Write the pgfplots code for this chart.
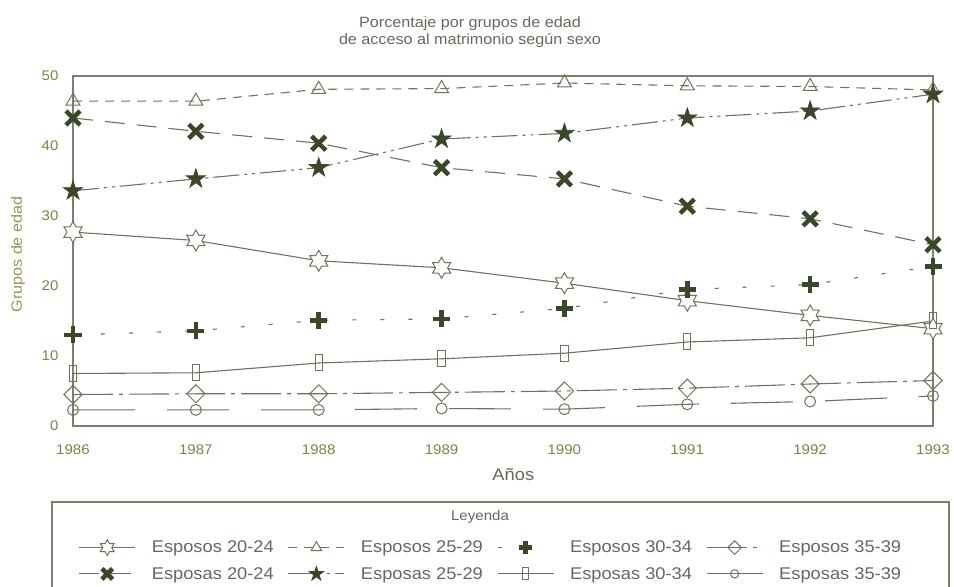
\documentclass[border=0pt]{standalone}
\usepackage{fontspec}
\setmainfont{Liberation Sans}[FakeStretch=1.08]
\usepackage{pgfplots}
\pgfplotsset{compat=1.18}
\usetikzlibrary{plotmarks}

\definecolor{linea}{HTML}{6E735A}
\definecolor{oscuro}{HTML}{3A4828}
\definecolor{marco}{HTML}{7C806A}
\definecolor{tickc}{HTML}{857F45}
\definecolor{ylab}{HTML}{9A9350}
\definecolor{texto}{HTML}{66685A}

% estrella de seis puntas (hueca)
\pgfdeclareplotmark{hexstar}{%
  \pgfpathmoveto{\pgfpointpolar{90}{\pgfplotmarksize}}%
  \pgfpathlineto{\pgfpointpolar{120}{0.577\pgfplotmarksize}}%
  \pgfpathlineto{\pgfpointpolar{150}{\pgfplotmarksize}}%
  \pgfpathlineto{\pgfpointpolar{180}{0.577\pgfplotmarksize}}%
  \pgfpathlineto{\pgfpointpolar{210}{\pgfplotmarksize}}%
  \pgfpathlineto{\pgfpointpolar{240}{0.577\pgfplotmarksize}}%
  \pgfpathlineto{\pgfpointpolar{270}{\pgfplotmarksize}}%
  \pgfpathlineto{\pgfpointpolar{300}{0.577\pgfplotmarksize}}%
  \pgfpathlineto{\pgfpointpolar{330}{\pgfplotmarksize}}%
  \pgfpathlineto{\pgfpointpolar{0}{0.577\pgfplotmarksize}}%
  \pgfpathlineto{\pgfpointpolar{30}{\pgfplotmarksize}}%
  \pgfpathlineto{\pgfpointpolar{60}{0.577\pgfplotmarksize}}%
  \pgfpathclose
  \pgfusepathqfillstroke
}
% estrella de cinco puntas (rellena)
\pgfdeclareplotmark{fivestar}{%
  \pgfpathmoveto{\pgfpointpolar{90}{\pgfplotmarksize}}%
  \pgfpathlineto{\pgfpointpolar{126}{0.38\pgfplotmarksize}}%
  \pgfpathlineto{\pgfpointpolar{162}{\pgfplotmarksize}}%
  \pgfpathlineto{\pgfpointpolar{198}{0.38\pgfplotmarksize}}%
  \pgfpathlineto{\pgfpointpolar{234}{\pgfplotmarksize}}%
  \pgfpathlineto{\pgfpointpolar{270}{0.38\pgfplotmarksize}}%
  \pgfpathlineto{\pgfpointpolar{306}{\pgfplotmarksize}}%
  \pgfpathlineto{\pgfpointpolar{342}{0.38\pgfplotmarksize}}%
  \pgfpathlineto{\pgfpointpolar{18}{\pgfplotmarksize}}%
  \pgfpathlineto{\pgfpointpolar{54}{0.38\pgfplotmarksize}}%
  \pgfpathclose
  \pgfusepathqfillstroke
}

\begin{document}
\begin{tikzpicture}
\useasboundingbox (0,0) rectangle (954bp,587bp);
\begin{axis}[
  at={(73bp,161bp)}, anchor=south west,
  scale only axis, width=860bp, height=350bp,
  xmin=1986, xmax=1993, ymin=0, ymax=50,
  xtick={1986,...,1993}, ytick={0,10,...,50},
  major tick length=0pt,
  axis line style={marco, line width=1.2bp},
  /pgf/number format/1000 sep={},
  /pgf/number format/assume math mode=true,
  tick label style={text=tickc, font=\fontsize{14}{16}\selectfont},
  xticklabel style={yshift=-15bp},
  yticklabel style={xshift=-11bp},
  xlabel={Años},
  xlabel style={at={(axis description cs:0.512,0)}, anchor=center, yshift=-49bp,
    text=texto, font=\fontsize{17}{19}\selectfont},
  ylabel={Grupos de edad},
  ylabel style={at={(axis description cs:-0.064,0.49)}, anchor=center,
    text=ylab, font=\fontsize{15}{17}\selectfont},
  legend columns=4,
  legend cell align=left,
  legend style={at={(0.486,-0.385)}, anchor=center, draw=none, fill=none,
    text=texto, font=\fontsize{17}{19}\selectfont,
    nodes={inner sep=2bp}, row sep=9bp,
    /tikz/every odd column/.append style={column sep=14bp},
    /tikz/every even column/.append style={column sep=12bp}},
  legend image code/.code={%
    \draw[mark repeat=2,mark phase=2,#1,every mark/.append style={scale=0.75}]
      plot coordinates {(0bp,0bp) (28bp,0bp) (56bp,0bp)};},
  every axis plot/.append style={line width=1.1bp, linea},
]
% Esposos 20-24
\addplot[solid, mark=hexstar, mark size=10.5bp,
  mark options={solid, fill=white, draw=linea, line width=1bp}]
  coordinates {(1986,27.7)(1987,26.5)(1988,23.6)(1989,22.6)(1990,20.4)(1991,17.9)(1992,15.8)(1993,13.9)};
\addlegendentry{Esposos 20-24}
% Esposos 25-29
\addplot[dash pattern=on 9bp off 7bp, mark=triangle, mark size=8bp,
  mark options={solid, fill=white, draw=linea, line width=1bp}]
  coordinates {(1986,46.4)(1987,46.4)(1988,48.1)(1989,48.2)(1990,49.0)(1991,48.6)(1992,48.5)(1993,48.0)};
\addlegendentry{Esposos 25-29}
% Esposos 30-34
\addplot[dash pattern=on 4bp off 24bp, mark=+, mark size=8.5bp,
  mark options={solid, draw=oscuro, line width=4.5bp}]
  coordinates {(1986,13.0)(1987,13.6)(1988,15.1)(1989,15.3)(1990,16.8)(1991,19.5)(1992,20.2)(1993,22.8)};
\addlegendentry{Esposos 30-34}
% Esposos 35-39
\addplot[dash pattern=on 40bp off 6bp on 4bp off 6bp, mark=square, mark size=6.4bp,
  mark options={solid, rotate=45, fill=white, draw=linea, line width=1bp}]
  coordinates {(1986,4.5)(1987,4.6)(1988,4.6)(1989,4.8)(1990,5.0)(1991,5.4)(1992,6.0)(1993,6.5)};
\addlegendentry{Esposos 35-39}
% Esposas 20-24
\addplot[dash pattern=on 20bp off 12bp, mark=x, mark size=10bp,
  mark options={solid, draw=oscuro, line width=4.5bp}]
  coordinates {(1986,44.0)(1987,42.1)(1988,40.4)(1989,36.9)(1990,35.3)(1991,31.4)(1992,29.6)(1993,25.9)};
\addlegendentry{Esposas 20-24}
% Esposas 25-29
\addplot[dash pattern=on 26bp off 5bp on 3bp off 5bp on 3bp off 5bp, mark=fivestar, mark size=10bp,
  mark options={solid, fill=oscuro, draw=oscuro, line width=0.8bp}]
  coordinates {(1986,33.6)(1987,35.3)(1988,36.9)(1989,41.0)(1990,41.8)(1991,44.0)(1992,45.0)(1993,47.4)};
\addlegendentry{Esposas 25-29}
% Esposas 30-34
\addplot[solid, mark=square, mark size=8bp,
  mark options={solid, xscale=0.45, fill=white, draw=linea, line width=1bp}]
  coordinates {(1986,7.5)(1987,7.6)(1988,9.0)(1989,9.6)(1990,10.4)(1991,12.0)(1992,12.6)(1993,15.0)};
\addlegendentry{Esposas 30-34}
% Esposas 35-39
\addplot[dash pattern=on 62bp off 32bp, mark=o, mark size=5.5bp,
  mark options={solid, fill=white, draw=linea, line width=1bp}]
  coordinates {(1986,2.3)(1987,2.3)(1988,2.3)(1989,2.5)(1990,2.4)(1991,3.1)(1992,3.5)(1993,4.3)};
\addlegendentry{Esposas 35-39}
\end{axis}

\node[text=texto, font=\fontsize{15}{17}\selectfont, align=center]
  at (470bp,555bp) {Porcentaje por grupos de edad\\de acceso al matrimonio según sexo};
\draw[marco, line width=1.2bp] (52bp,85bp) rectangle (949bp,-20bp);
\node[text=texto, font=\fontsize{14}{16}\selectfont] at (480bp,70bp) {Leyenda};
\end{tikzpicture}
\end{document}
